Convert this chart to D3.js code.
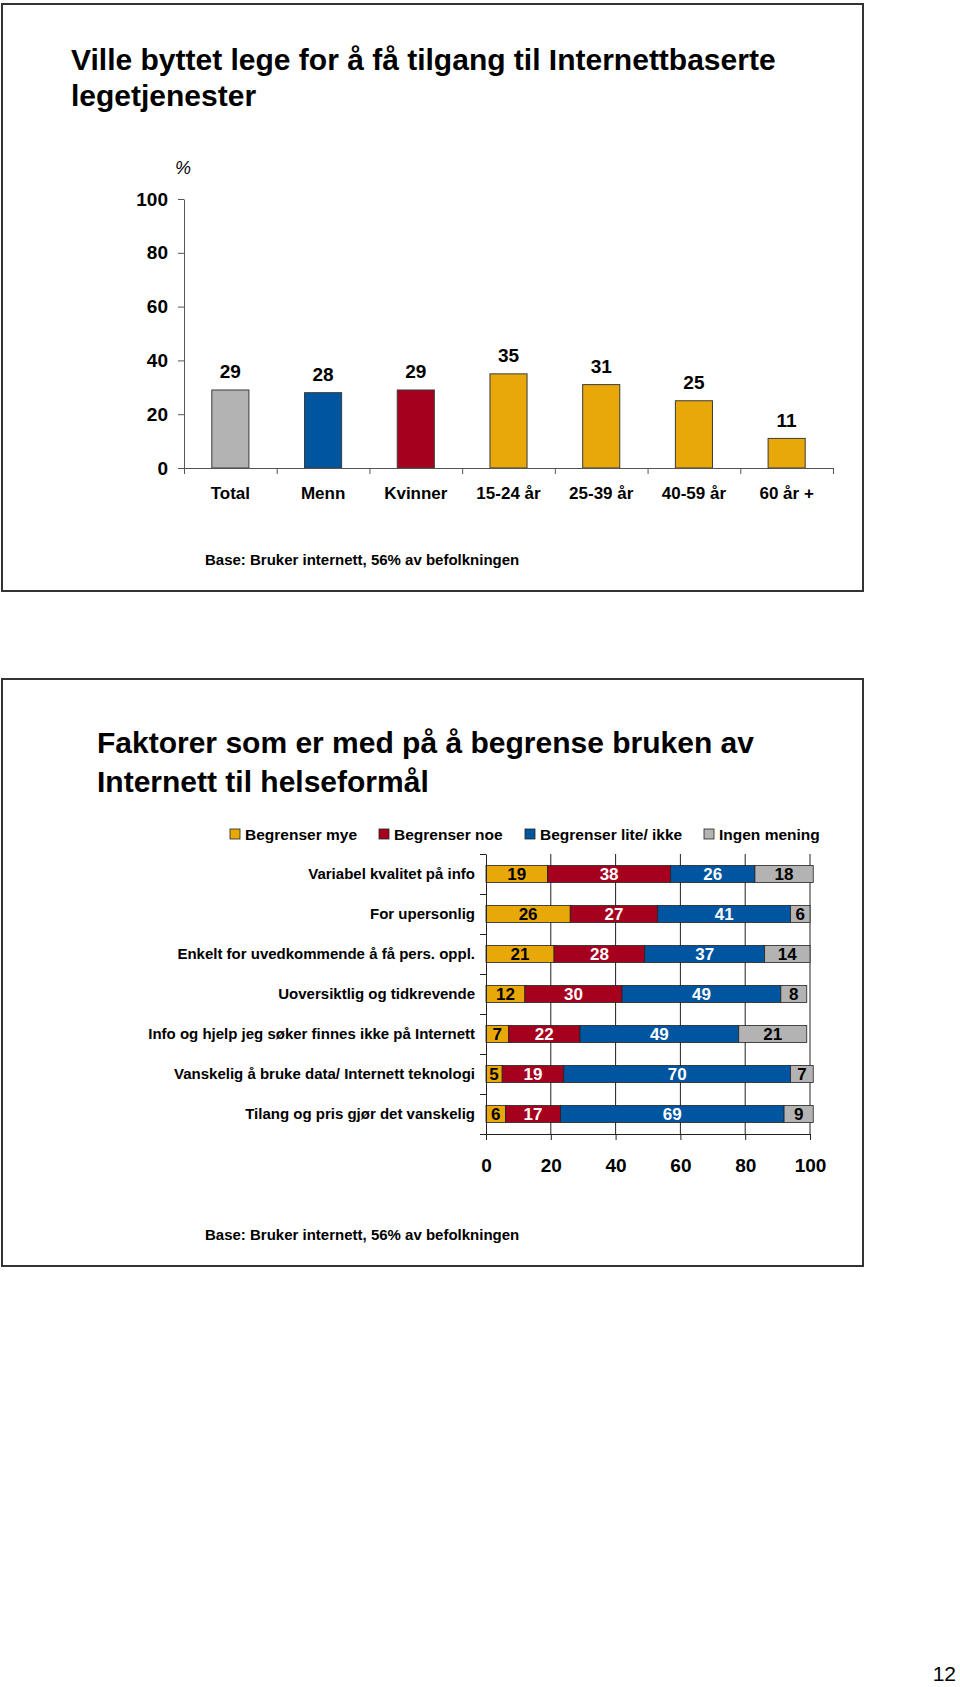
<!DOCTYPE html>
<html>
<head>
<meta charset="utf-8">
<script src="https://cdn.jsdelivr.net/npm/d3@7"></script>
<style>
  html, body { margin: 0; padding: 0; background: #ffffff; }
  svg { display: block; }
  text { font-family: "Liberation Sans", Arial, sans-serif; fill: #000; }
</style>
</head>
<body>
<script>
// ---------- DATA ----------
const topTitleLines = ["Ville byttet lege for å få tilgang til Internettbaserte", "legetjenester"];
const topCategories = ["Total", "Menn", "Kvinner", "15-24 år", "25-39 år", "40-59 år", "60 år +"];
const topValues = [29, 28, 29, 35, 31, 25, 11];
const topGroups = ["total", "menn", "kvinner", "alder", "alder", "alder", "alder"];
const topYTicks = [0, 20, 40, 60, 80, 100];
const baseNote = "Base: Bruker internett, 56% av befolkningen";

const bottomTitleLines = ["Faktorer som er med på å begrense bruken av", "Internett til helseformål"];
const rowLabels = [
  "Variabel kvalitet på info",
  "For upersonlig",
  "Enkelt for uvedkommende å få pers. oppl.",
  "Uoversiktlig og tidkrevende",
  "Info og hjelp jeg søker finnes ikke på Internett",
  "Vanskelig å bruke data/ Internett teknologi",
  "Tilang og pris gjør det vanskelig"
];
const seriesNames = ["Begrenser mye", "Begrenser noe", "Begrenser lite/ ikke", "Ingen mening"];
const begrenserMye  = [19, 26, 21, 12, 7, 5, 6];
const begrenserNoe  = [38, 27, 28, 30, 22, 19, 17];
const begrenserLite = [26, 41, 37, 49, 49, 70, 69];
const ingenMening   = [18, 6, 14, 8, 21, 7, 9];
const bottomXTicks = [0, 20, 40, 60, 80, 100];
const pageNumber = "12";

// ---------- STYLE ----------
const GOLD = "#e8a80a", RED = "#a6001f", BLUE = "#0055a0", GRAY = "#b3b3b3";
const FRAME = "#333333";

const svg = d3.select("body").append("svg")
  .attr("width", 960).attr("height", 1687);

// frames
svg.append("rect").attr("x", 2).attr("y", 4).attr("width", 861).attr("height", 587)
  .attr("fill", "none").attr("stroke", FRAME).attr("stroke-width", 2);
svg.append("rect").attr("x", 2).attr("y", 679).attr("width", 861).attr("height", 587)
  .attr("fill", "none").attr("stroke", FRAME).attr("stroke-width", 2);

// ================= TOP CHART =================
svg.append("g").selectAll("text").data(topTitleLines).join("text")
  .attr("x", 71).attr("y", (d, i) => 70 + i * 35.5)
  .attr("font-size", 30).attr("font-weight", "bold")
  .text(d => d);

const tx = d3.scaleBand().domain(topCategories).range([184, 833])
  .paddingInner(0.6).paddingOuter(0.3);
const ty = d3.scaleLinear().domain([0, 100]).range([468, 199]);
const tColor = d3.scaleOrdinal().domain(["total", "menn", "kvinner", "alder"])
  .range([GRAY, BLUE, RED, GOLD]);

// bars
svg.append("g").selectAll("rect").data(topValues).join("rect")
  .attr("x", (d, i) => tx(topCategories[i]))
  .attr("y", d => ty(d))
  .attr("width", tx.bandwidth())
  .attr("height", d => ty(0) - ty(d))
  .attr("fill", (d, i) => tColor(topGroups[i]))
  .attr("stroke", "#3a3a3a").attr("stroke-width", 1);

// value labels
svg.append("g").selectAll("text").data(topValues).join("text")
  .attr("x", (d, i) => tx(topCategories[i]) + tx.bandwidth() / 2)
  .attr("y", d => ty(d) - 11.5)
  .attr("text-anchor", "middle")
  .attr("font-size", 19).attr("font-weight", "bold")
  .text(d => d);

// y axis
const yAxisG = svg.append("g").attr("transform", "translate(184,0)")
  .call(d3.axisLeft(ty).tickValues(topYTicks).tickSize(6).tickSizeOuter(0).tickPadding(10));
yAxisG.selectAll("text").attr("font-size", 19).attr("font-weight", "bold")
  .attr("font-family", "Liberation Sans, Arial, sans-serif").attr("fill", "#000");
yAxisG.selectAll("line,path").attr("stroke", "#555");

// x axis line with boundary ticks
const tIdx = d3.scaleLinear().domain([0, topCategories.length]).range([184, 833]);
const xBoundG = svg.append("g").attr("transform", "translate(0,468)")
  .call(d3.axisBottom(tIdx).tickValues(d3.range(0, topCategories.length + 1))
    .tickFormat("").tickSize(6).tickSizeOuter(0));
xBoundG.selectAll("line,path").attr("stroke", "#555");

// category labels
const xLabG = svg.append("g").attr("transform", "translate(0,468)")
  .call(d3.axisBottom(tx).tickSize(0).tickPadding(19));
xLabG.select(".domain").remove();
xLabG.selectAll("text").attr("font-size", 17).attr("font-weight", "bold")
  .attr("font-family", "Liberation Sans, Arial, sans-serif").attr("fill", "#000");

// % label
svg.append("text").attr("x", 183).attr("y", 174).attr("text-anchor", "middle")
  .attr("font-size", 18).attr("font-style", "italic").text("%");

svg.append("text").attr("x", 205).attr("y", 564.5)
  .attr("font-size", 15).attr("font-weight", "bold").text(baseNote);

// ================= BOTTOM CHART =================
svg.append("g").selectAll("text").data(bottomTitleLines).join("text")
  .attr("x", 97).attr("y", (d, i) => 753 + i * 39)
  .attr("font-size", 30).attr("font-weight", "bold")
  .text(d => d);

// legend
const legendColors = [GOLD, RED, BLUE, GRAY];
const legendX = [230, 379, 525, 704];
const lg = svg.append("g").selectAll("g").data(seriesNames).join("g")
  .attr("transform", (d, i) => `translate(${legendX[i]},834)`);
lg.append("rect").attr("x", 0).attr("y", -5).attr("width", 10).attr("height", 10)
  .attr("fill", (d, i) => legendColors[i]).attr("stroke", "#222").attr("stroke-width", 0.8);
lg.append("text").attr("x", 15).attr("y", 0).attr("dy", "0.36em")
  .attr("font-size", 15.5).attr("font-weight", "bold").text(d => d);

const bx = d3.scaleLinear().domain([0, 100]).range([486, 810]);
const by = d3.scaleBand().domain(rowLabels).range([854, 1134])
  .paddingInner(0.575).paddingOuter(0.2875);

// gridlines
svg.append("g").selectAll("line").data(bottomXTicks.filter(d => d > 0)).join("line")
  .attr("x1", d => bx(d)).attr("x2", d => bx(d))
  .attr("y1", 854).attr("y2", 1134)
  .attr("stroke", "#222").attr("stroke-width", 1);

// stacked bars
const rows = rowLabels.map((r, i) => ({
  label: r,
  [seriesNames[0]]: begrenserMye[i],
  [seriesNames[1]]: begrenserNoe[i],
  [seriesNames[2]]: begrenserLite[i],
  [seriesNames[3]]: ingenMening[i]
}));
const stacked = d3.stack().keys(seriesNames)(rows);
const segColor = d3.scaleOrdinal().domain(seriesNames).range(legendColors);
const segText = d3.scaleOrdinal().domain(seriesNames).range(["#000", "#fff", "#fff", "#000"]);

const layer = svg.append("g").selectAll("g").data(stacked).join("g");
layer.selectAll("rect").data(s => s.map(d => ({ s: s.key, d }))).join("rect")
  .attr("x", o => bx(o.d[0]))
  .attr("y", o => by(o.d.data.label))
  .attr("width", o => bx(o.d[1]) - bx(o.d[0]))
  .attr("height", by.bandwidth())
  .attr("fill", o => segColor(o.s))
  .attr("stroke", "#222").attr("stroke-width", 0.8);
layer.selectAll("text").data(s => s.map(d => ({ s: s.key, d }))).join("text")
  .attr("x", o => (bx(o.d[0]) + bx(o.d[1])) / 2)
  .attr("y", o => by(o.d.data.label) + by.bandwidth() / 2)
  .attr("dy", "0.36em")
  .attr("text-anchor", "middle")
  .attr("font-size", 17).attr("font-weight", "bold")
  .style("fill", o => segText(o.s))
  .text(o => o.d[1] - o.d[0]);

// left axis with boundary ticks
const rIdx = d3.scaleLinear().domain([0, rowLabels.length]).range([854, 1134]);
const lAx = svg.append("g").attr("transform", "translate(486,0)")
  .call(d3.axisLeft(rIdx).tickValues(d3.range(0, rowLabels.length + 1))
    .tickFormat("").tickSize(6).tickSizeOuter(0));
lAx.selectAll("line,path").attr("stroke", "#222");

// row labels
const rLab = svg.append("g").attr("transform", "translate(486,0)")
  .call(d3.axisLeft(by).tickSize(0).tickPadding(11));
rLab.select(".domain").remove();
rLab.selectAll("text").attr("font-size", 15).attr("font-weight", "bold")
  .attr("font-family", "Liberation Sans, Arial, sans-serif").attr("fill", "#000");

// bottom axis
const bAx = svg.append("g").attr("transform", "translate(0,1134)")
  .call(d3.axisBottom(bx).tickValues(bottomXTicks).tickSize(6).tickSizeOuter(0).tickPadding(19));
bAx.selectAll("line,path").attr("stroke", "#222");
bAx.selectAll("text").attr("font-size", 19).attr("font-weight", "bold")
  .attr("font-family", "Liberation Sans, Arial, sans-serif").attr("fill", "#000");

svg.append("text").attr("x", 205).attr("y", 1239.5)
  .attr("font-size", 15).attr("font-weight", "bold").text(baseNote);

// page number
svg.append("text").attr("x", 956).attr("y", 1681).attr("text-anchor", "end")
  .attr("font-size", 21).text(pageNumber);
</script>
</body>
</html>
